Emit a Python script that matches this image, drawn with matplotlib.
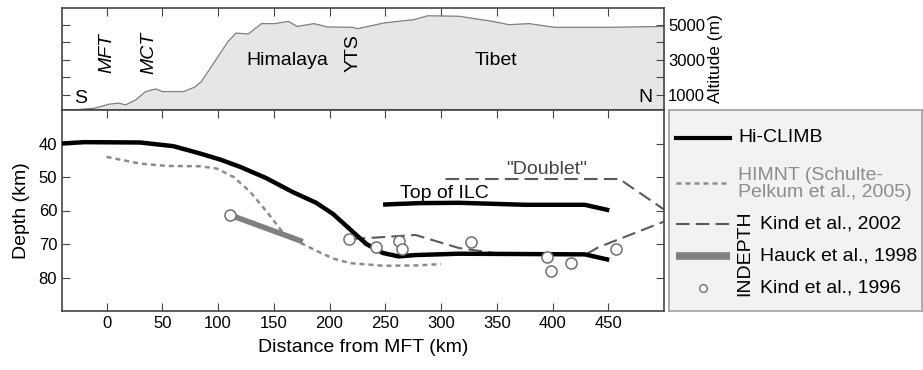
import matplotlib
matplotlib.use('Agg')
import matplotlib.pyplot as plt
from matplotlib.patches import Rectangle

plt.rcParams['font.family'] = ['Liberation Sans', 'DejaVu Sans']

# topography profile (km from MFT, altitude in m)
alt_km = [-40, -29, -11, 2, 11, 17, 26, 35, 44, 50, 69, 79, 85, 97, 109, 116, 127,
          139, 151, 163, 171, 186, 198, 221, 225, 249, 276, 288, 316, 346, 361,
          379, 402, 450, 500]
alt_m = [140, 150, 240, 470, 530, 430, 710, 1190, 1340, 1190, 1190, 1440, 1760,
         2900, 4050, 4520, 4470, 5060, 5060, 5190, 4900, 5060, 4870, 4850, 4770,
         5100, 5290, 5510, 5480, 5190, 5000, 5060, 4850, 4850, 4900]

# Hi-CLIMB Moho
hiclimb_km = [-40, -20, 30, 60, 84, 102, 120, 143, 167, 188, 203, 218, 233, 248,
              262, 277, 316, 376, 429, 449]
hiclimb_depth = [40, 39.6, 39.7, 40.8, 43, 44.8, 47, 50.3, 54.5, 57.7, 61, 65.5,
                 70, 72.7, 73.7, 73.3, 72.9, 73, 73.1, 74.6]

# top of ILC
ilc_km = [250, 280, 316, 376, 429, 449]
ilc_depth = [58.2, 57.8, 57.7, 58.3, 58.3, 59.8]

# HIMNT
himnt_km = [0, 30, 54, 84, 99, 114, 129, 144, 158, 173, 188, 203, 218, 248, 278, 300]
himnt_depth = [44, 46, 46.7, 46.8, 47.5, 50, 54.5, 60.5, 66.5, 69.5, 72, 74.3,
               75.7, 76.5, 76.4, 76]

# INDEPTH: Kind et al., 2002
kind02_doublet_km = [304, 460, 500]
kind02_doublet_depth = [50.6, 50.6, 59.7]
kind02_km = [220, 245, 277, 316, 350, 429, 441, 500]
kind02_depth = [68.5, 68, 67.3, 71.2, 72.8, 73.3, 71, 63.3]

# INDEPTH: Hauck et al., 1998
hauck_km = [112, 176]
hauck_depth = [61.5, 69.3]

# INDEPTH: Kind et al., 1996
kind96_km = [111, 217, 242, 262, 265, 327, 395, 399, 417, 457]
kind96_depth = [61.3, 68.5, 71, 69, 71.5, 69.3, 74, 78, 75.8, 71.5]

spine_c = '#444444'
fig = plt.figure(figsize=(9.23, 3.70), dpi=100)
ax_top = fig.add_axes([62 / 923, 1 - 110 / 370, 602 / 923, 102 / 370])
ax = fig.add_axes([62 / 923, 1 - 311 / 370, 602 / 923, 201 / 370])
ax_leg = fig.add_axes([669 / 923, 1 - 311 / 370, 253 / 923, 201 / 370])

# --- topography ---
ax_top.fill_between(alt_km, 0, alt_m, color='#e6e6e6', zorder=1)
ax_top.plot(alt_km, alt_m, color='#808080', lw=0.9, zorder=2)
ax_top.set_xlim(-40, 500)
ax_top.set_ylim(140, 5950)
ax_top.set_xticks(range(0, 451, 50))
ax_top.set_yticks([1000, 2000, 3000, 4000, 5000])
ax_top.set_yticklabels(['1000', '', '3000', '', '5000'])
ax_top.tick_params(axis='x', top=True, bottom=False, labelbottom=False,
                   direction='in', length=6, color=spine_c)
ax_top.tick_params(axis='y', left=True, right=True, labelleft=False,
                   labelright=True, direction='in', length=6, color=spine_c,
                   labelsize=12, pad=3)
ax_top.yaxis.set_label_position('right')
ax_top.set_ylabel('Altitude (m)', fontsize=12.5, labelpad=2)

ax_top.text(-23.5, 800, 'S', fontsize=14, ha='center', va='center')
ax_top.text(483.5, 850, 'N', fontsize=14, ha='center', va='center')
ax_top.text(0, 3370, 'MFT', fontsize=14, style='italic', rotation=90,
            ha='center', va='center')
ax_top.text(38, 3370, 'MCT', fontsize=14, style='italic', rotation=90,
            ha='center', va='center')
ax_top.text(162, 2940, 'Himalaya', fontsize=14, ha='center', va='center')
ax_top.text(221.5, 3400, 'YTS', fontsize=14, rotation=90, ha='center', va='center')
ax_top.text(349.5, 2940, 'Tibet', fontsize=14, ha='center', va='center')

# --- depth section ---
ax.plot(himnt_km, himnt_depth, color='#8c8c8c', lw=1.8,
        linestyle=(0, (2.0, 1.6)), zorder=2)
ax.plot(kind02_doublet_km, kind02_doublet_depth, color='#5a5a5a', lw=1.5,
        linestyle=(0, (6.5, 3)), zorder=2)
ax.plot(kind02_km, kind02_depth, color='#5a5a5a', lw=1.5,
        linestyle=(0, (6.5, 3)), zorder=2)
ax.plot(hauck_km, hauck_depth, color='#808080', lw=4, solid_capstyle='butt',
        zorder=3)
ax.plot(hiclimb_km, hiclimb_depth, color='black', lw=3.2, zorder=4)
ax.plot(ilc_km, ilc_depth, color='black', lw=3.2, zorder=4)
ax.plot(kind96_km, kind96_depth, linestyle='none', marker='o', ms=8,
        mfc='white', mec='#707070', mew=1.1, zorder=5)

ax.text(303, 56.4, 'Top of ILC', fontsize=14, ha='center', va='baseline')
ax.text(395, 49.0, '"Doublet"', fontsize=14, ha='center', va='baseline',
        color='#444444')

ax.set_xlim(-40, 500)
ax.set_ylim(90, 30)
ax.set_xticks(range(0, 451, 50))
ax.set_yticks([40, 50, 60, 70, 80])
ax.tick_params(axis='both', top=True, right=True, direction='in', length=6,
               color=spine_c, labelsize=12)
ax.set_xlabel('Distance from MFT (km)', fontsize=14, labelpad=6)
ax.set_ylabel('Depth (km)', fontsize=14, labelpad=6)

for a in (ax_top, ax):
    for s in a.spines.values():
        s.set_color(spine_c)
        s.set_linewidth(1.2)

# --- legend box drawn in pixel coordinates ---
ax_leg.set_xlim(669, 922)
ax_leg.set_ylim(311, 110)
ax_leg.set_facecolor('#f2f2f2')
ax_leg.set_xticks([])
ax_leg.set_yticks([])
for s in ax_leg.spines.values():
    s.set_color('#a0a0a0')
    s.set_linewidth(1.2)

ax_leg.plot([676, 730], [138, 138], color='black', lw=3)
ax_leg.text(738, 138, 'Hi-CLIMB', fontsize=14, va='center')
ax_leg.plot([676, 730], [183, 183], color='#8c8c8c', lw=1.8,
            linestyle=(0, (2.0, 1.6)))
ax_leg.text(738, 184, 'HIMNT (Schulte-\nPelkum et al., 2005)', fontsize=14,
            va='center', color='#8c8c8c', linespacing=0.95)
ax_leg.plot([676, 730], [224, 224], color='#5a5a5a', lw=1.5,
            linestyle=(0, (6.5, 3)))
ax_leg.text(760, 224, 'Kind et al., 2002', fontsize=14, va='center')
ax_leg.plot([676, 730], [256, 256], color='#808080', lw=5.5,
            solid_capstyle='butt')
ax_leg.text(760, 256, 'Hauck et al., 1998', fontsize=14, va='center')
ax_leg.plot([703], [288], linestyle='none', marker='o', ms=5.5, mfc='white',
            mec='#707070', mew=1)
ax_leg.text(760, 288, 'Kind et al., 1996', fontsize=14, va='center')
ax_leg.text(745, 253, 'INDEPTH', fontsize=14, rotation=90, ha='center',
            va='center')

fig.savefig('out.png', dpi=100)
